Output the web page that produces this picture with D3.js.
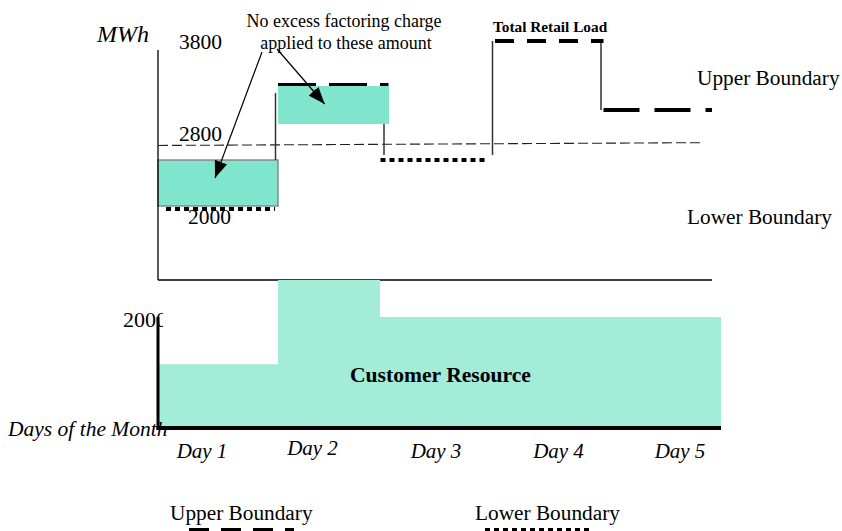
<!DOCTYPE html>
<html>
<head>
<meta charset="utf-8">
<script src="https://cdn.jsdelivr.net/npm/d3@7"></script>
<style>
  html, body { margin: 0; padding: 0; background: #fff; }
  svg { display: block; }
  text { font-family: "Liberation Serif", "Times New Roman", serif; fill: #000; }
</style>
</head>
<body>
<svg id="chart" width="842" height="531"></svg>
<script>
// ---------------- DATA ----------------
const days = ["Day 1", "Day 2", "Day 3", "Day 4", "Day 5"];
const topTicks = [3800, 2800, 2000];
// Upper boundary (dashed) segments: day index + MWh
const upperBoundary = [
  { day: 1, value: 3335 },
  { day: 3, value: 3800 },
  { day: 4, value: 3061 }
];
// Lower boundary (dotted) segments
const lowerBoundary = [
  { day: 0, value: 2000 },
  { day: 2, value: 2525 }
];
// Retail load amounts with no excess factoring charge (teal boxes)
const exemptLoad = [
  { day: 0, low: 2033, high: 2525 },
  { day: 1, low: 2911, high: 3318 }
];
// Total retail load step connectors: edge index, from, to
const loadSteps = [
  { edge: 1, from: 2525, to: 3243 },
  { edge: 2, from: 2911, to: 2579 },
  { edge: 3, from: 2579, to: 3800 },
  { edge: 4, from: 3800, to: 3061 }
];
// Threshold dashed line (start / end value)
const threshold = [2681, 2711];
// Arrow targets (day position, MWh)
const arrowTargets = [
  { day: 0.475, value: 2333 },
  { day: 1.43, value: 3125 }
];
// Customer resource (bottom panel), per day
const customerResource = [1150, 2667, 2000, 2000, 2000];
const bottomTicks = [2000];

// ---------------- LAYOUT ----------------
const svg = d3.select("#chart");
const teal = "#7fe5cd";
const tealLight = "#a2ecd8";

const xTop = d3.scaleLinear().domain([0, 1, 5]).range([158, 278, 712]);
const yTop = d3.scaleLinear().domain([1240, 3800]).range([280, 41]);
const xBot = d3.scaleLinear().domain([0, 1, 2, 5]).range([158, 278, 380, 721]);
const yBot = d3.scaleLinear().domain([0, 2000]).range([428, 317]);
const xLab = d3.scalePoint().domain(days).range([202, 680]);

// defs
const defs = svg.append("defs");
defs.append("marker").attr("id", "arrow")
  .attr("markerUnits", "userSpaceOnUse")
  .attr("viewBox", "0 0 17 13").attr("markerWidth", 17).attr("markerHeight", 13)
  .attr("refX", 17).attr("refY", 6.5).attr("orient", "auto")
  .append("path").attr("d", "M0,0 L17,6.5 L0,13 z").attr("fill", "#000");
defs.append("clipPath").attr("id", "clipLeft")
  .append("rect").attr("x", 0).attr("y", 290).attr("width", 163).attr("height", 60);

// ---- Top panel ----
svg.append("g").selectAll("rect").data(exemptLoad).join("rect")
  .attr("x", d => xTop(d.day))
  .attr("y", d => yTop(d.high))
  .attr("width", d => xTop(d.day + 1) - xTop(d.day) + (d.day === 1 ? 2.5 : 0))
  .attr("height", d => yTop(d.low) - yTop(d.high))
  .attr("fill", teal)
  .attr("stroke", d => d.day === 0 ? "#888" : "none")
  .attr("stroke-width", 1.5);

svg.append("line").attr("x1", xTop(0)).attr("x2", xTop(0))
  .attr("y1", 50).attr("y2", yTop(1240))
  .attr("stroke", "#000").attr("stroke-width", 1.3);
svg.append("line").attr("x1", xTop(0)).attr("x2", xTop(5))
  .attr("y1", yTop(1240)).attr("y2", yTop(1240))
  .attr("stroke", "#000").attr("stroke-width", 1.3);

svg.append("line")
  .attr("x1", xTop(0)).attr("y1", yTop(threshold[0]))
  .attr("x2", xTop(5) - 10).attr("y2", yTop(threshold[1]))
  .attr("stroke", "#222").attr("stroke-width", 1.1)
  .attr("stroke-dasharray", "10,4");

svg.append("g").selectAll("line").data(loadSteps).join("line")
  .attr("x1", d => xTop(d.edge) - 2.5).attr("x2", d => xTop(d.edge) - 2.5)
  .attr("y1", d => yTop(d.from)).attr("y2", d => yTop(d.to))
  .attr("stroke", "#333").attr("stroke-width", 1.5);

const upperDash = { 1: "38,13", 3: "19,13", 4: "36,15" };
const upperW = { 1: 3, 3: 4, 4: 4 };
svg.append("g").selectAll("line").data(upperBoundary).join("line")
  .attr("x1", d => xTop(d.day)).attr("x2", d => xTop(d.day + 1) + (d.day === 1 ? 2 : 0))
  .attr("y1", d => yTop(d.value)).attr("y2", d => yTop(d.value))
  .attr("stroke", "#000")
  .attr("stroke-width", d => upperW[d.day])
  .attr("stroke-dasharray", d => upperDash[d.day]);

svg.append("g").selectAll("line").data(lowerBoundary).join("line")
  .attr("x1", d => xTop(d.day) + (d.day === 0 ? 8 : -6))
  .attr("x2", d => xTop(d.day + 1) + (d.day === 0 ? -3 : -9))
  .attr("y1", d => yTop(d.value)).attr("y2", d => yTop(d.value))
  .attr("stroke", "#000").attr("stroke-width", 4)
  .attr("stroke-dasharray", "5,4");

const tickDx = { 3800: 0, 2800: 0, 2000: 9 };
const tickDy = { 3800: 8, 2800: 7, 2000: 15 };
svg.append("g").selectAll("text").data(topTicks).join("text")
  .attr("x", d => 179 + tickDx[d])
  .attr("y", d => yTop(d) + tickDy[d])
  .attr("font-size", 21.5)
  .text(d => d);

svg.append("text").attr("x", 97).attr("y", 42)
  .attr("font-size", 24).attr("font-style", "italic").text("MWh");

svg.append("text").attr("x", 344).attr("y", 27).attr("text-anchor", "middle")
  .attr("font-size", 18).text("No excess factoring charge");
svg.append("text").attr("x", 346).attr("y", 49).attr("text-anchor", "middle")
  .attr("font-size", 18).text("applied to these amount");
const arrowStarts = [[262, 52], [277, 49]];
svg.append("g").selectAll("line").data(arrowTargets).join("line")
  .attr("x1", (d, i) => arrowStarts[i][0]).attr("y1", (d, i) => arrowStarts[i][1])
  .attr("x2", d => xTop(d.day)).attr("y2", d => yTop(d.value))
  .attr("stroke", "#000").attr("stroke-width", 1.2)
  .attr("marker-end", "url(#arrow)");

svg.append("text").attr("x", 493).attr("y", 32)
  .attr("font-size", 15.3).attr("font-weight", "bold").text("Total Retail Load");
svg.append("text").attr("x", 697).attr("y", 85)
  .attr("font-size", 21.3).text("Upper Boundary");
svg.append("text").attr("x", 687).attr("y", 224)
  .attr("font-size", 21.3).text("Lower Boundary");

// ---- Bottom panel ----
const resPts = customerResource.map((v, i) => ({ i, v }))
  .concat([{ i: 5, v: customerResource[4] }]);
svg.append("path").datum(resPts)
  .attr("d", d3.area().curve(d3.curveStepAfter)
    .x(d => xBot(d.i)).y0(yBot(0)).y1(d => yBot(d.v)))
  .attr("fill", tealLight);

svg.append("g").selectAll("text").data(bottomTicks).join("text")
  .attr("x", 123).attr("y", d => yBot(d) + 10)
  .attr("font-size", 22).attr("clip-path", "url(#clipLeft)")
  .text(d => d);

svg.append("line").attr("x1", xBot(0)).attr("x2", xBot(0))
  .attr("y1", yBot(2000)).attr("y2", yBot(0) + 2)
  .attr("stroke", "#000").attr("stroke-width", 3);
svg.append("line").attr("x1", xBot(0) - 1.5).attr("x2", xBot(5))
  .attr("y1", yBot(0)).attr("y2", yBot(0))
  .attr("stroke", "#000").attr("stroke-width", 4);

svg.append("text").attr("x", 350).attr("y", 382)
  .attr("font-size", 21.6).attr("font-weight", "bold").text("Customer Resource");

svg.append("text").attr("x", 8).attr("y", 436)
  .attr("font-size", 21.5).attr("font-style", "italic").text("Days of the Month");

const labelDx = [0, -9, -5, -2, 0];
svg.append("g").selectAll("text").data(days).join("text")
  .attr("x", (d, i) => xLab(d) + labelDx[i]).attr("y", (d, i) => i === 1 ? 455 : 458)
  .attr("text-anchor", "middle")
  .attr("font-size", 21).attr("font-style", "italic")
  .text(d => d);

// ---- Legend ----
svg.append("text").attr("x", 170).attr("y", 520).attr("font-size", 21.3).text("Upper Boundary");
svg.append("line").attr("x1", 189).attr("x2", 294).attr("y1", 530).attr("y2", 530)
  .attr("stroke", "#000").attr("stroke-width", 4).attr("stroke-dasharray", "20,12");
svg.append("text").attr("x", 475).attr("y", 520).attr("font-size", 21.3).text("Lower Boundary");
svg.append("line").attr("x1", 485).attr("x2", 590).attr("y1", 530).attr("y2", 530)
  .attr("stroke", "#000").attr("stroke-width", 4).attr("stroke-dasharray", "5,4");
</script>
</body>
</html>
